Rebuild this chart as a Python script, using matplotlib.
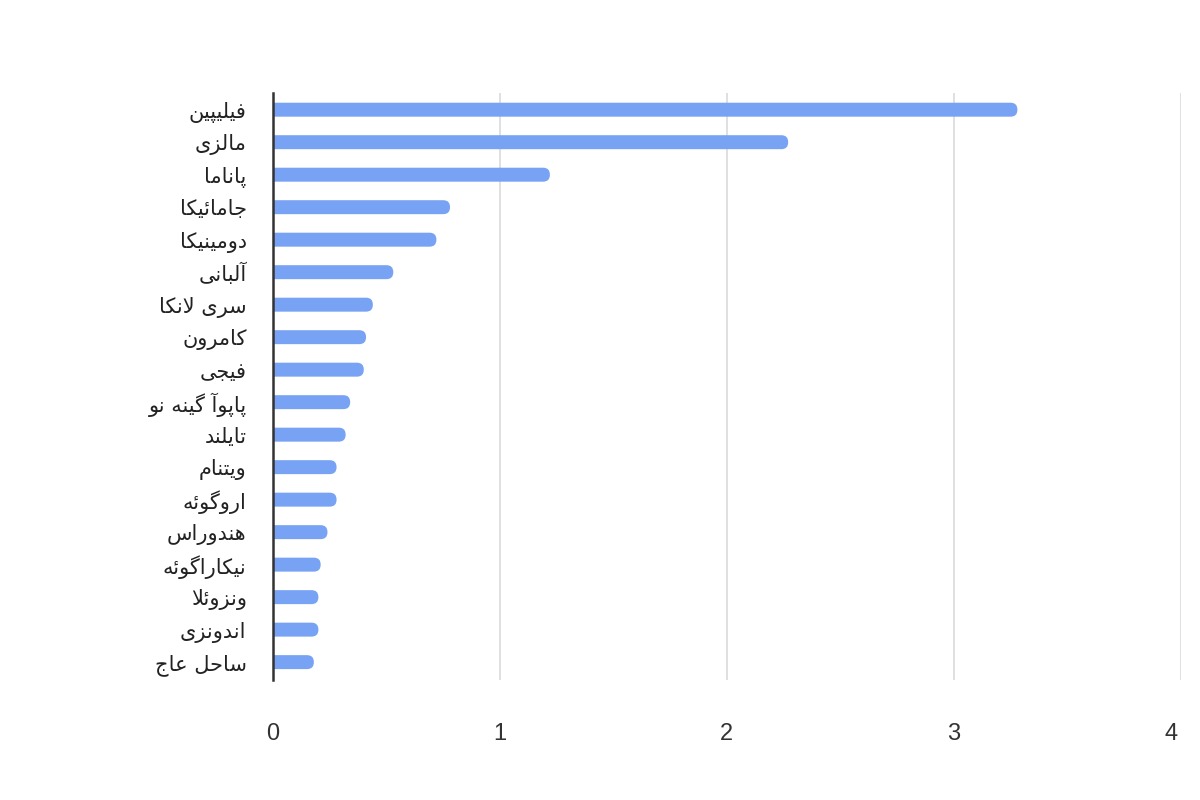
import matplotlib
matplotlib.use("Agg")
import matplotlib.pyplot as plt
import matplotlib.transforms as mtrans
from matplotlib.patches import FancyBboxPatch

countries = ["فیلیپین", "مالزی", "پاناما", "جامائیکا", "دومینیکا", "آلبانی",
             "سری لانکا", "کامرون", "فیجی", "پاپوآ گینه نو", "تایلند", "ویتنام",
             "اروگوئه", "هندوراس", "نیکاراگوئه", "ونزوئلا", "اندونزی", "ساحل عاج"]
values = [3.28, 2.27, 1.22, 0.78, 0.72, 0.53, 0.44, 0.41, 0.40, 0.34,
          0.32, 0.28, 0.28, 0.24, 0.21, 0.20, 0.20, 0.18]
xticks = [0, 1, 2, 3, 4]

# matplotlib has no arabic shaping, so pick presentation forms by hand
# (isolated, final, initial, medial)
forms = {
    "ا": ("\uFE8D", "\uFE8E", None, None),
    "آ": ("\uFE81", "\uFE82", None, None),
    "د": ("\uFEA9", "\uFEAA", None, None),
    "ر": ("\uFEAD", "\uFEAE", None, None),
    "ز": ("\uFEAF", "\uFEB0", None, None),
    "و": ("\uFEED", "\uFEEE", None, None),
    "ب": ("\uFE8F", "\uFE90", "\uFE91", "\uFE92"),
    "پ": ("\uFB56", "\uFB57", "\uFB58", "\uFB59"),
    "ت": ("\uFE95", "\uFE96", "\uFE97", "\uFE98"),
    "ج": ("\uFE9D", "\uFE9E", "\uFE9F", "\uFEA0"),
    "ح": ("\uFEA1", "\uFEA2", "\uFEA3", "\uFEA4"),
    "س": ("\uFEB1", "\uFEB2", "\uFEB3", "\uFEB4"),
    "ع": ("\uFEC9", "\uFECA", "\uFECB", "\uFECC"),
    "ف": ("\uFED1", "\uFED2", "\uFED3", "\uFED4"),
    "ک": ("\uFB8E", "\uFB8F", "\uFB90", "\uFB91"),
    "گ": ("\uFB92", "\uFB93", "\uFB94", "\uFB95"),
    "ل": ("\uFEDD", "\uFEDE", "\uFEDF", "\uFEE0"),
    "م": ("\uFEE1", "\uFEE2", "\uFEE3", "\uFEE4"),
    "ن": ("\uFEE5", "\uFEE6", "\uFEE7", "\uFEE8"),
    "ه": ("\uFEE9", "\uFEEA", "\uFEEB", "\uFEEC"),
    "ی": ("\uFBFC", "\uFBFD", "\uFBFE", "\uFBFF"),
    "ئ": ("\uFE89", "\uFE8A", "\uFE8B", "\uFE8C"),
}
lamalef = {"ا": ("\uFEFB", "\uFEFC"), "آ": ("\uFEF5", "\uFEF6")}


def shape(word):
    chars = list(word)
    out = []
    i = 0
    while i < len(chars):
        c = chars[i]
        if c not in forms:
            out.append(c)
            i += 1
            continue
        prev = chars[i - 1] if i > 0 else None
        joins_prev = prev in forms and forms[prev][2] is not None
        if c == "ل" and i + 1 < len(chars) and chars[i + 1] in lamalef:
            out.append(lamalef[chars[i + 1]][1 if joins_prev else 0])
            i += 2
            continue
        nxt = chars[i + 1] if i + 1 < len(chars) else None
        joins_next = forms[c][2] is not None and nxt in forms
        if joins_prev and joins_next:
            out.append(forms[c][3])
        elif joins_prev:
            out.append(forms[c][1])
        elif joins_next:
            out.append(forms[c][2])
        else:
            out.append(forms[c][0])
        i += 1
    return "".join(out[::-1])


fig = plt.figure(figsize=(12, 8), dpi=100)
ax = fig.add_axes([0.2275, 0.15, 0.7565, 0.734])

bar_col = "#78a3f4"
h = 0.43
ypos = list(range(len(values)))
for y, v in zip(ypos, values):
    box = FancyBboxPatch((-0.1, y - h / 2), v + 0.1, h,
                         boxstyle="round,pad=0,rounding_size=0.03",
                         mutation_aspect=7.0, fc=bar_col, ec="none", zorder=2)
    ax.add_patch(box)

ax.set_xlim(0, 4.0)
ax.set_ylim(17.55, -0.52)
ax.set_xticks(xticks)
ax.set_xticklabels([str(t) for t in xticks], fontsize=17, color="#333333",
                   family="Liberation Sans")
ax.set_yticks(ypos)
ax.set_yticklabels([shape(c) for c in countries], fontsize=15, color="#222222",
                   family=["DejaVu Sans"])
ax.tick_params(axis="x", length=0, pad=31)
ax.tick_params(axis="y", length=0, pad=19)

# last x label sits a bit left of its gridline, as in the original
last = ax.get_xticklabels()[-1]
last.set_transform(last.get_transform() +
                   mtrans.ScaledTranslation(-10 / 100, 0, fig.dpi_scale_trans))

ax.grid(axis="x", color="#dddddd", linewidth=1.3, zorder=0)
ax.set_axisbelow(True)
for s in ["top", "right", "bottom"]:
    ax.spines[s].set_visible(False)
ax.spines["left"].set_color("#333333")
ax.spines["left"].set_linewidth(1.8)
ax.spines["left"].set_zorder(3)

fig.savefig("out.png", dpi=100)
